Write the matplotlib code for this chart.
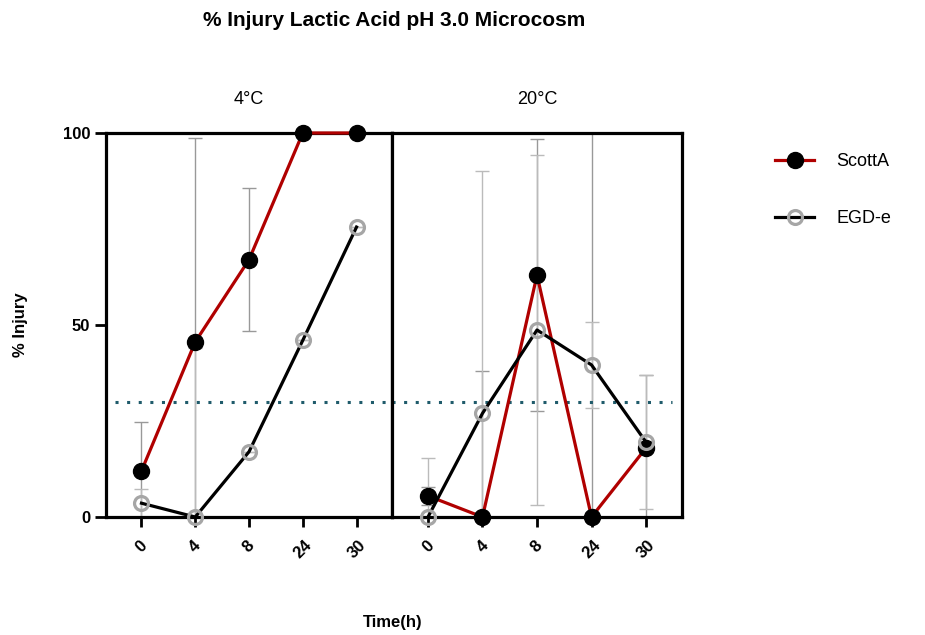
import matplotlib.pyplot as plt
from matplotlib.lines import Line2D

plt.rcParams['font.family'] = ['Liberation Sans', 'DejaVu Sans']

times = ['0', '4', '8', '24', '30']
panels = ['4°C', '20°C']

# % injury, 4 C
scott_4 = [12, 45.6, 67, 100, 100]
scott_4_sd = [12.7, 53, 18.6, 0, 0]
egd_4 = [3.6, 0, 17, 46, 75.5]
egd_4_sd = [3.6, 44, 0, 0, 0]

# % injury, 20 C
scott_20 = [5.5, 0, 63, 0, 18]
scott_20_sd = [2.3, 38, 35.5, 105, 19]
egd_20 = [0, 27, 48.7, 39.6, 19.5]
egd_20_sd = [15.3, 63, 45.5, 11.2, 17.5]

threshold = 30

fig = plt.figure(figsize=(9.25, 6.35), dpi=100)
ax1 = fig.add_axes([0.1146, 0.1858, 0.3092, 0.6048])
ax2 = fig.add_axes([0.4238, 0.1858, 0.3135, 0.6048], sharey=ax1)

data = [(ax1, scott_4, scott_4_sd, egd_4, egd_4_sd, (0.03, 1.0)),
        (ax2, scott_20, scott_20_sd, egd_20, egd_20_sd, (0.0, 0.966))]

for i, (ax, s, s_sd, e, e_sd, span) in enumerate(data):
    x = list(range(len(times)))
    ax.errorbar(x, s, yerr=s_sd, fmt='none', ecolor='#999999', elinewidth=1,
                capsize=5, capthick=1, zorder=1)
    ax.errorbar(x, e, yerr=e_sd, fmt='none', ecolor='#bbbbbb', elinewidth=1,
                capsize=5, capthick=1, zorder=1)
    ax.plot(x, s, color='#b00000', lw=2.3, marker='o', ms=11.5, mfc='black',
            mec='black', clip_on=False, zorder=3)
    ax.plot(x, e, color='black', lw=2.3, marker='o', ms=10, mfc='none',
            mec='#a6a6a6', mew=2.3, clip_on=False, zorder=4)
    ax.axhline(threshold, xmin=span[0], xmax=span[1], color='#1f5b6b', lw=2.2,
               ls=(0, (1, 2.8)), zorder=2)
    ax.set_xlim(-0.66, 4.66)
    ax.set_ylim(0, 100)
    ax.set_xticks(x)
    ax.set_xticklabels(times, rotation=45, fontweight='bold', fontsize=12)
    ax.tick_params(axis='x', length=7, width=2, direction='out', pad=8)
    for sp in ax.spines.values():
        sp.set_linewidth(2.3)
    ax.set_title(panels[i], fontsize=13, pad=21)

ax1.set_yticks([0, 50, 100])
ax1.set_yticklabels(['0', '50', '100'], fontweight='bold', fontsize=12)
ax1.tick_params(axis='y', length=8, width=2, direction='out')
ax2.tick_params(axis='y', left=False, labelleft=False)
ax1.set_ylabel('% Injury', fontweight='bold', fontsize=12, labelpad=25)

fig.text(0.426, 0.968, '% Injury Lactic Acid pH 3.0 Microcosm',
         ha='center', va='center', fontsize=15, fontweight='bold')
fig.text(0.425, 0.02, 'Time(h)', ha='center', va='center',
         fontsize=12, fontweight='bold')

handles = [
    Line2D([], [], color='#b00000', lw=2.3, marker='o', ms=11.5,
           mfc='black', mec='black'),
    Line2D([], [], color='black', lw=2.3, marker='o', ms=10, mfc='none',
           mec='#a6a6a6', mew=2.3),
]
fig.legend(handles, ['ScottA', 'EGD-e'], loc='upper left',
           bbox_to_anchor=(0.82, 0.784), frameon=False, fontsize=13,
           handlelength=2.2, labelspacing=2.2, handletextpad=1.2)

fig.savefig('out.png', dpi=100)
